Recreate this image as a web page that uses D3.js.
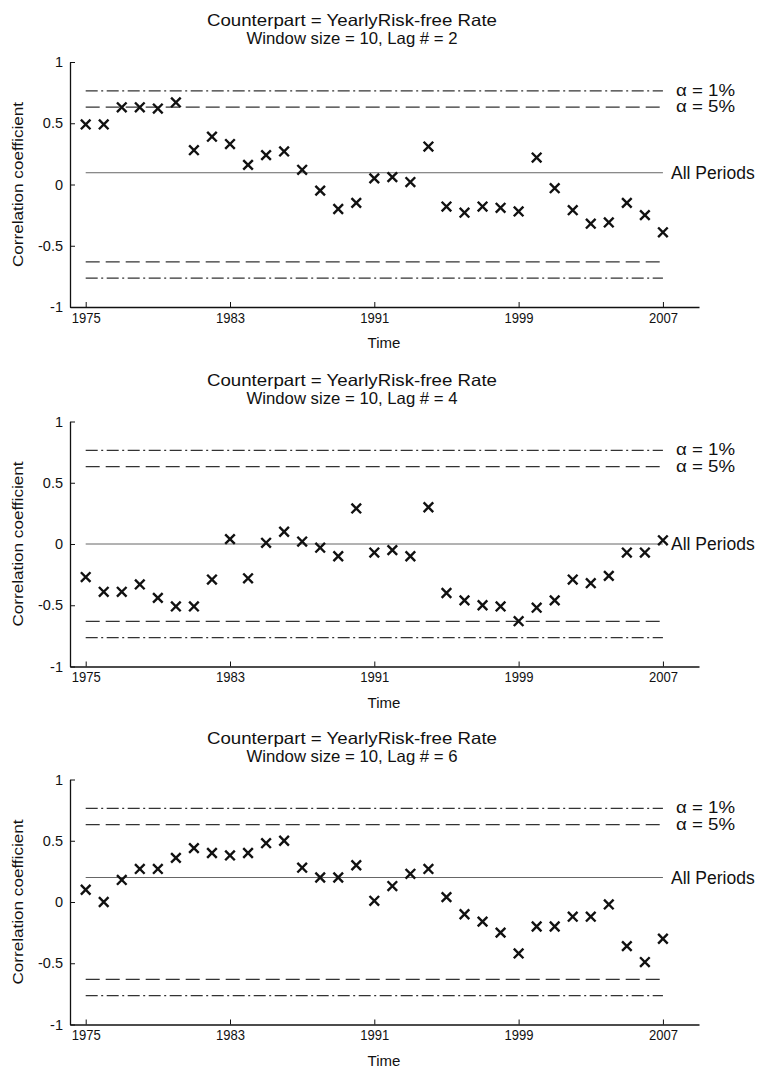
<!DOCTYPE html>
<html>
<head>
<meta charset="utf-8">
<script src="https://cdn.jsdelivr.net/npm/d3@7"></script>
<style>
  html, body { margin: 0; padding: 0; background: #fff; }
  svg { display: block; }
  text { font-family: "Liberation Sans", Arial, Helvetica, sans-serif; fill: #111; }
</style>
</head>
<body>
<svg id="chart" width="761" height="1069"></svg>
<script>
// Rolling-window correlation of returns with the yearly risk-free rate
const years = [1975, 1976, 1977, 1978, 1979, 1980, 1981, 1982, 1983, 1984, 1985,
  1986, 1987, 1988, 1989, 1990, 1991, 1992, 1993, 1994, 1995, 1996, 1997, 1998,
  1999, 2000, 2001, 2002, 2003, 2004, 2005, 2006, 2007];

const lag2Values = [0.49, 0.49, 0.63, 0.63, 0.62, 0.67, 0.28, 0.39, 0.33, 0.16, 0.24,
  0.27, 0.12, -0.05, -0.20, -0.15, 0.05, 0.06, 0.02, 0.31, -0.18, -0.23, -0.18, -0.19,
  -0.22, 0.22, -0.03, -0.21, -0.32, -0.31, -0.15, -0.25, -0.39];

const lag4Values = [-0.27, -0.39, -0.39, -0.33, -0.44, -0.51, -0.51, -0.29, 0.04, -0.28, 0.01,
  0.10, 0.02, -0.03, -0.10, 0.29, -0.07, -0.05, -0.10, 0.30, -0.40, -0.46, -0.50, -0.51,
  -0.63, -0.52, -0.46, -0.29, -0.32, -0.26, -0.07, -0.07, 0.03];

const lag6Values = [0.10, 0.00, 0.18, 0.27, 0.27, 0.36, 0.44, 0.40, 0.38, 0.40, 0.48,
  0.50, 0.28, 0.20, 0.20, 0.30, 0.01, 0.13, 0.23, 0.27, 0.04, -0.10, -0.16, -0.25,
  -0.42, -0.20, -0.20, -0.12, -0.12, -0.02, -0.36, -0.49, -0.30];

const lags = [2, 4, 6];
const allPeriods = [0.096, 0.0, 0.2];
const crit1 = 0.765;   // alpha = 1%, n = 10
const crit5 = 0.632;   // alpha = 5%, n = 10
const yTicks = [-1, -0.5, 0, 0.5, 1];
const xTicks = [1975, 1983, 1991, 1999, 2007];
const titleLine1 = "Counterpart = YearlyRisk-free Rate";
const windowSize = 10;

const seriesList = [lag2Values, lag4Values, lag6Values];

const svg = d3.select("#chart");
const panelOffsets = [0, 359.5, 717.5];

const x = d3.scaleLinear().domain([1974.13, 2009.0]).range([70, 699]);

const dashDot = "12,3.5,2,3.5";
const dashed = "14,6";

seriesList.forEach((vals, i) => {
  const off = panelOffsets[i];
  const y = d3.scaleLinear().domain([-1, 1]).range([307 + off, 62 + off]);
  const g = svg.append("g");

  // titles
  g.append("text").attr("x", 352).attr("y", 26 + off)
    .attr("text-anchor", "middle").style("font-size", "16.5px")
    .attr("textLength", 290).attr("lengthAdjust", "spacingAndGlyphs")
    .text(titleLine1);
  g.append("text").attr("x", 352).attr("y", 44 + off)
    .attr("text-anchor", "middle").style("font-size", "16.5px")
    .attr("textLength", 211).attr("lengthAdjust", "spacingAndGlyphs")
    .text(`Window size = ${windowSize}, Lag # = ${lags[i]}`);

  // reference lines: critical values and the full-sample correlation
  const lineSpan = [years[0], years[years.length - 1]];
  const refLines = [
    { v: crit1, dash: dashDot, w: 1.2, c: "#333" },
    { v: crit5, dash: dashed, w: 1.3, c: "#333" },
    { v: -crit5, dash: dashed, w: 1.3, c: "#333" },
    { v: -crit1, dash: dashDot, w: 1.2, c: "#333" },
    { v: allPeriods[i], dash: null, w: 1, c: "#666" }
  ];
  refLines.forEach(r => {
    g.append("line")
      .attr("x1", x(lineSpan[0])).attr("x2", x(lineSpan[1]))
      .attr("y1", y(r.v)).attr("y2", y(r.v))
      .attr("stroke", r.c).attr("stroke-width", r.w)
      .attr("stroke-dasharray", r.dash);
  });

  g.append("text").attr("x", 676).attr("y", y(crit1) + 5)
    .style("font-size", "16px").attr("textLength", 59)
    .attr("lengthAdjust", "spacingAndGlyphs").text("\u03b1 = 1%");
  g.append("text").attr("x", 676).attr("y", y(crit5) + 5)
    .style("font-size", "16px").attr("textLength", 59)
    .attr("lengthAdjust", "spacingAndGlyphs").text("\u03b1 = 5%");
  g.append("text").attr("x", 671).attr("y", y(allPeriods[i]) + 6)
    .style("font-size", "17.5px").text("All Periods");

  // axes
  const xAxis = d3.axisBottom(x).tickValues(xTicks).tickFormat(d3.format("d"))
    .tickSizeInner(-5).tickSizeOuter(0).tickPadding(5);
  const gx = g.append("g").attr("transform", `translate(0,${307 + off})`).call(xAxis);
  gx.selectAll("text").style("font-size", "15px").attr("textLength", 29)
    .attr("lengthAdjust", "spacingAndGlyphs");

  const yAxis = d3.axisLeft(y).tickValues(yTicks).tickFormat(d => String(d))
    .tickSizeInner(-5).tickSizeOuter(0).tickPadding(7);
  const gy = g.append("g").attr("transform", "translate(70,0)").call(yAxis);
  gy.selectAll("text").style("font-size", "14.5px");

  [gx, gy].forEach(a => {
    a.select(".domain").attr("stroke", "#111").attr("stroke-width", 1.3);
    a.selectAll(".tick line").attr("stroke", "#111");
  });

  g.append("text").attr("x", 384).attr("y", 348 + off)
    .attr("text-anchor", "middle").style("font-size", "15px").text("Time");
  g.append("text")
    .attr("transform", `translate(23,${184.5 + off}) rotate(-90)`)
    .attr("text-anchor", "middle").style("font-size", "15px")
    .attr("textLength", 165).attr("lengthAdjust", "spacingAndGlyphs")
    .text("Correlation coefficient");

  // x markers
  const s = 4.8;
  const marks = g.append("g").attr("stroke", "#111").attr("stroke-width", 2.4)
    .attr("stroke-linecap", "butt");
  vals.forEach((v, k) => {
    const cx = x(years[k]), cy = y(v);
    marks.append("path")
      .attr("d", `M${cx - s},${cy - s}L${cx + s},${cy + s}M${cx - s},${cy + s}L${cx + s},${cy - s}`);
  });
});
</script>
</body>
</html>
